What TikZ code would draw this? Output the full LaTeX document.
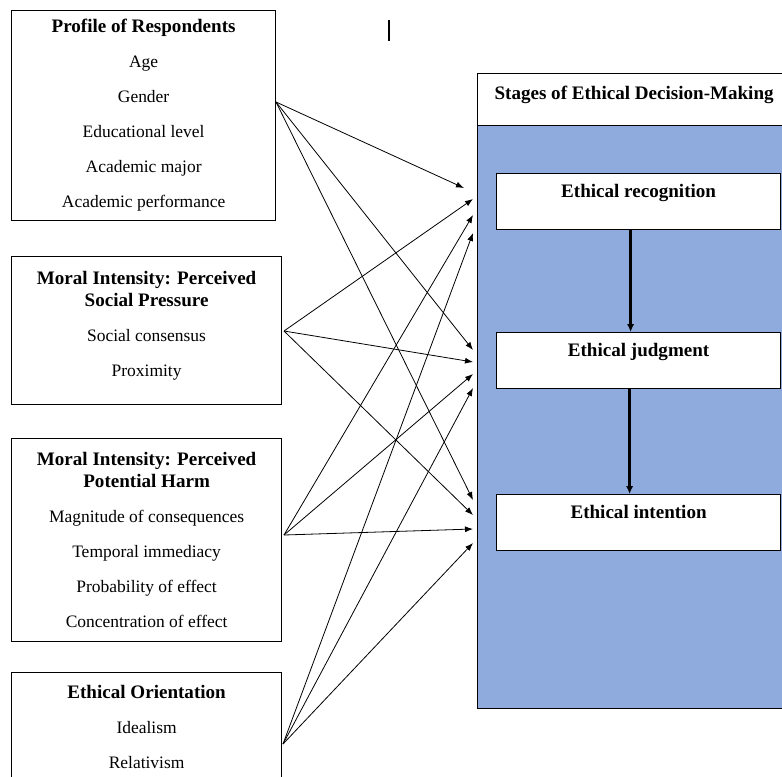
\documentclass[tikz,border=0pt]{standalone}
\usepackage{fontspec}
\setmainfont{Liberation Serif}
\usepackage{xcolor}
\usepackage{tikz}
\usetikzlibrary{arrows.meta, positioning}
\definecolor{stageblue}{HTML}{8FAADC}
\newcommand{\itemsize}{\fontsize{13.1pt}{16.5pt}\selectfont}
\newcommand{\headsize}{\fontsize{14.3pt}{16.5pt}\selectfont\bfseries}
\newcommand{\boxhead}[1]{{\headsize #1}}
\tikzset{
    diagram/.style={font=\itemsize},
    factor box/.style={draw, line width=0.9pt, align=center, anchor=north west,
        inner sep=0pt, minimum width=202.5pt},
    stage box/.style={draw, line width=0.9pt, fill=white, anchor=north west,
        inner sep=0pt, minimum width=213pt, font=\headsize,
        text height=17.8pt, text depth=24.2pt},
    factor arrow/.style={-{Latex[length=6pt,width=4.5pt]}, line width=0.6pt},
    stage arrow/.style={-{Latex[length=6pt,width=5.5pt]}, line width=1.8pt},
}

\begin{document}
\begin{tikzpicture}[
        diagram, x=0.75pt, y=-0.75pt,
        panelbox/.style={draw, line width=0.9pt, anchor=north west, inner sep=0pt,
            minimum width=234.75pt}
    ]
        \useasboundingbox (0,0) rectangle (782,776);

        % factors on the left
        \node[factor box, minimum width=198pt, minimum height=157.5pt] (profile) at (11,10)
            {\boxhead{Profile of Respondents}\\[9.75pt]
             Age\\[9.75pt] Gender\\[9.75pt] Educational level\\[9.75pt]
             Academic major\\[9.75pt] Academic performance};
        \node[factor box, minimum height=111pt] (social) at (11,256)
            {\boxhead{Moral Intensity: Perceived}\\\boxhead{Social Pressure}\\[9.75pt]
             Social consensus\\[9.75pt] Proximity\rule[-10.5pt]{0pt}{10.5pt}};
        \node[factor box, minimum height=152.25pt] (harm) at (11,438)
            {\boxhead{Moral Intensity: Perceived}\\\boxhead{Potential Harm}\\[9.75pt]
             Magnitude of consequences\\[9.75pt] Temporal immediacy\\[9.75pt]
             Probability of effect\\[9.75pt] Concentration of effect};
        \node[factor box, minimum height=81pt] (orient) at (11,672)
            {\boxhead{Ethical Orientation}\\[9.75pt] Idealism\\[9.75pt] Relativism};

        % stages on the right
        \node[panelbox, text height=19.5pt, text depth=19.5pt, font=\headsize] (stages)
            at (477,73) {Stages of Ethical Decision-Making};
        \node[panelbox, fill=stageblue, minimum height=437.25pt] (panel) at (477,125) {};

        \node[stage box] (recog) at (496,173) {Ethical recognition};
        \node[stage box] (judge) at (496,332) {Ethical judgment};
        \node[stage box] (intent) at (496,494) {Ethical intention};

        \draw[stage arrow] ([xshift=-6pt]recog.south) -- ([xshift=-6pt]judge.north);
        \draw[stage arrow] ([xshift=-6.75pt]judge.south) -- ([xshift=-6.75pt]intent.north);

        % where the connectors leave and arrive
        \coordinate (prof-out) at (276,102);
        \coordinate (soc-out) at (284,331);
        \coordinate (harm-out) at (284,535);
        \coordinate (ori-out) at (283,744);

        \coordinate (rec-in1) at (464,188);
        \coordinate (rec-in2) at (473,199);
        \coordinate (rec-in3) at (473,215);
        \coordinate (rec-in4) at (473,233);
        \coordinate (jud-in1) at (473,350);
        \coordinate (jud-in2) at (473,362);
        \coordinate (jud-in3) at (473,374);
        \coordinate (jud-in4) at (473,388);
        \coordinate (int-in1) at (473,500);
        \coordinate (int-in2) at (473,515);
        \coordinate (int-in3) at (473,529);
        \coordinate (int-in4) at (473,543);

        \draw[factor arrow] (prof-out) -- (rec-in1);
        \draw[factor arrow] (prof-out) -- (jud-in1);
        \draw[factor arrow] (prof-out) -- (int-in1);

        \draw[factor arrow] (soc-out) -- (rec-in2);
        \draw[factor arrow] (soc-out) -- (jud-in2);
        \draw[factor arrow] (soc-out) -- (int-in2);

        \draw[factor arrow] (harm-out) -- (rec-in3);
        \draw[factor arrow] (harm-out) -- (jud-in3);
        \draw[factor arrow] (harm-out) -- (int-in3);

        \draw[factor arrow] (ori-out) -- (rec-in4);
        \draw[factor arrow] (ori-out) -- (jud-in4);
        \draw[factor arrow] (ori-out) -- (int-in4);

        \draw[line width=1pt] (389,20) -- (389,41);
    \end{tikzpicture}
\end{document}
